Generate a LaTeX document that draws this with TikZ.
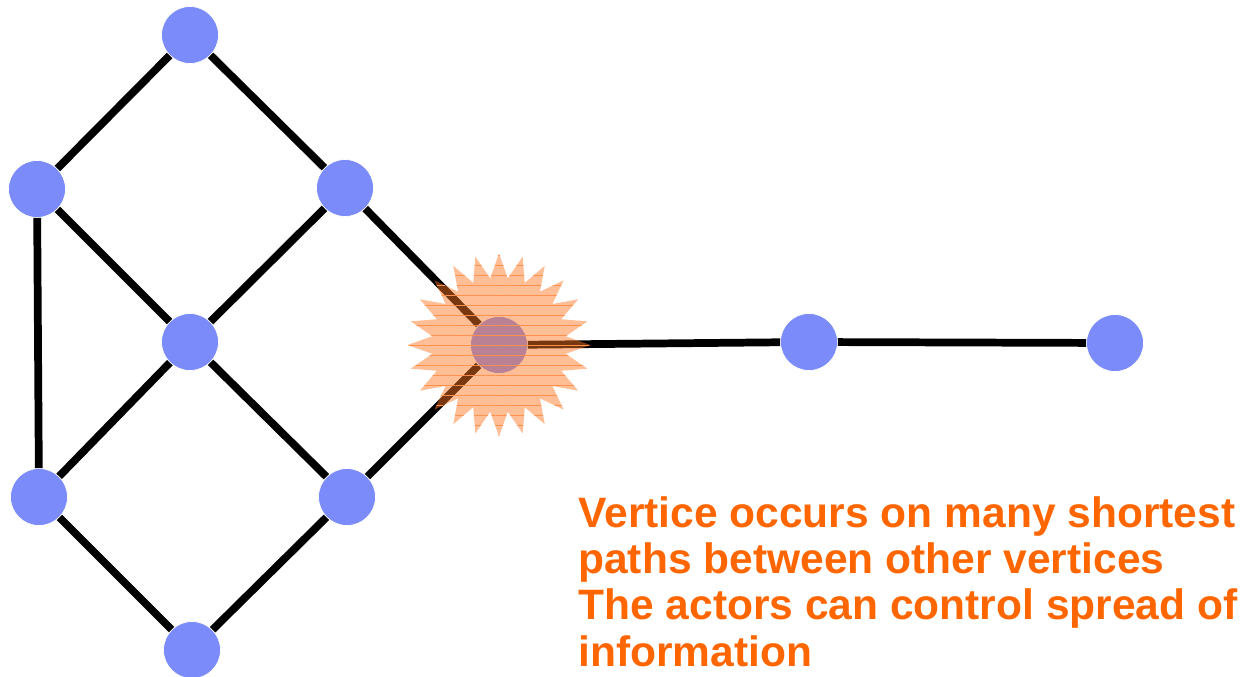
\documentclass[tikz,border=0pt]{standalone}
\usepackage{fontspec}
\setmainfont{Liberation Sans}
\usetikzlibrary{shapes.geometric,patterns.meta}
\definecolor{vblue}{RGB}{123,140,250}
\definecolor{burstorange}{RGB}{255,117,32}
\definecolor{textorange}{RGB}{255,102,0}
\begin{document}
\begin{tikzpicture}[x=0.02cm, y=-0.02cm,
    vertex/.style ={circle, fill=vblue, draw=white, thin, minimum size=1.14cm, inner sep=0pt},
    link/.style ={line width=4.4pt, black},
    burst/.style ={star, star points=24, star point ratio=1.36, minimum size=3.66cm,
      inner sep=0pt, fill=burstorange, fill opacity=0.47,
      postaction={pattern={Lines[angle=0,distance=5.7pt,line width=0.6pt]}, pattern color=burstorange!80!white}}]
   \useasboundingbox (0,0) rectangle (1247,676);

   \node[vertex] (A)  at (190,35)   {};
   \node[vertex] (B)  at (37,189)   {};
   \node[vertex] (C)  at (345,188)  {};
   \node[vertex] (D)  at (190,342)  {};
   \node[vertex] (E)  at (499,345)  {};
   \node[vertex] (F)  at (39,497)   {};
   \node[vertex] (G)  at (347,497)  {};
   \node[vertex] (H)  at (192,650)  {};
   \node[vertex] (I)  at (809,342)  {};
   \node[vertex] (J)  at (1115,343) {};

   \draw[link] (A) to  (B);
   \draw[link] (A) to  (C);
   \draw[link] (B) to  (D);
   \draw[link] (C) to  (D);
   \draw[link] (B) to  (F);
   \draw[link] (D) to  (F);
   \draw[link] (D) to  (G);
   \draw[link] (F) to  (H);
   \draw[link] (G) to  (H);
   \draw[link] (C) to  (E);
   \draw[link] (G) to  (E);
   \draw[link] (E) to  (I);
   \draw[link] (I) to  (J);

   % highlight on the central vertex
   \node[burst] (K) at (499,345) {};

   \node[anchor=north west, align=left, text=textorange, inner sep=0pt,
     font=\fontsize{24.2pt}{26.4pt}\selectfont\bfseries] (L) at (578,496)
     {Vertice occurs on many shortest\\paths between other vertices\\The actors can control spread of\\information};
 \end{tikzpicture}
\end{document}
